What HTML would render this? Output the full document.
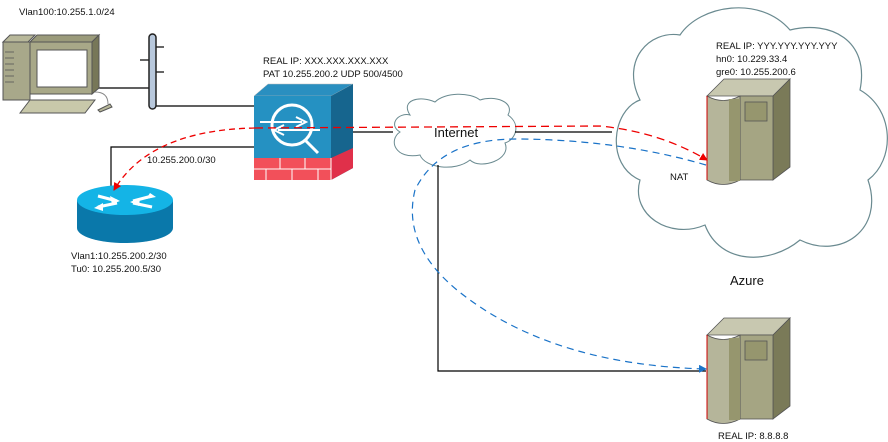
<!DOCTYPE html>
<html><head><meta charset="utf-8"><style>
html,body{margin:0;padding:0;background:#fff}
svg{display:block}
text{font-family:"Liberation Sans",sans-serif;fill:#111}
</style></head><body>
<svg width="888" height="442" viewBox="0 0 888 442" xmlns="http://www.w3.org/2000/svg">
<defs>
<marker id="ar" markerWidth="8" markerHeight="8" refX="7" refY="4" orient="auto" markerUnits="userSpaceOnUse"><path d="M0,0L8,4L0,8z" fill="#e00"/></marker>
<marker id="ab" markerWidth="8" markerHeight="8" refX="7" refY="4" orient="auto" markerUnits="userSpaceOnUse"><path d="M0,0L8,4L0,8z" fill="#1a73c8"/></marker>
<g id="srv">
<path d="M0,17 L17,0 L83,0 L66,17z" fill="#c8c8b0" stroke="#555" stroke-width="0.8"/>
<path d="M66,17 L83,0 L83,88 L66,101z" fill="#7a7a58" stroke="#555" stroke-width="0.8"/>
<rect x="33" y="17" width="33" height="84" fill="#a5a583" stroke="#555" stroke-width="0.8"/>
<rect x="38" y="23" width="22" height="19" fill="#96966e" stroke="#555" stroke-width="0.8"/>
<path d="M0,17 L0,101 Q16,110 33,101 L33,17 Q16,26 0,17z" fill="#b5b59a" stroke="#555" stroke-width="0.8"/>
<rect x="22" y="20" width="11" height="82" fill="#96966e"/>
<line x1="0" y1="17" x2="0" y2="101" stroke="#c00" stroke-width="1"/>
</g>
</defs>

<path d="M640,100 C620,60 650,30 680,35 C700,5 760,-5 790,30 C830,20 870,40 860,90 C895,110 895,160 868,180 C885,230 840,260 800,240 C770,265 720,265 705,225 C670,240 630,215 640,180 C605,165 612,110 640,100z" fill="#fff" stroke="#6a8a90" stroke-width="1.2"/>
<path d="M410,115 C400,100 420,95 435,102 C445,92 470,92 480,100 C495,95 515,102 508,115 C522,125 515,140 505,143 C512,160 480,170 470,160 C455,172 425,168 420,155 C395,160 388,140 400,132 C388,125 398,112 410,115z" fill="#fff" stroke="#6a8a90" stroke-width="1"/>

<g stroke="#000" stroke-width="1.2" fill="none">
<line x1="97" y1="88" x2="150" y2="88"/>
<line x1="156" y1="106" x2="254" y2="106"/>
<polyline points="254,147 111,147 111,190"/>
<line x1="353" y1="132" x2="393" y2="132"/>
<line x1="515" y1="132" x2="612" y2="132"/>
<polyline points="438,165 438,371 706,371"/>
<line x1="140" y1="60" x2="150" y2="60"/>
<line x1="156" y1="47" x2="164" y2="47"/>
<line x1="156" y1="72" x2="164" y2="72"/>
</g>
<rect x="149" y="34" width="7" height="75" rx="3.5" fill="#b8c8dc" stroke="#222" stroke-width="1.5"/>

<g stroke="#555" stroke-width="1">
<path d="M3,42 L10,35 L35,35 L28,42z" fill="#b8b89a"/>
<rect x="3" y="42" width="27" height="58" fill="#a8a88a"/>
<path d="M30,42 L37,35 L99,35 L92,42z" fill="#9a9a7a"/>
<rect x="30" y="42" width="62" height="52" fill="#a8a888"/>
<path d="M92,42 L99,35 L99,88 L92,94z" fill="#777758"/>
<rect x="37" y="50" width="50" height="37" fill="#fff"/>
<path d="M20,113 L30,100 L95,100 L85,113z" fill="#c8c8aa"/>
<path d="M98,110 L110,104 L112,107 L100,112z" fill="#b8b89a"/>
</g>
<g stroke="#555" stroke-width="0.8"><line x1="5" y1="52" x2="14" y2="52"/><line x1="5" y1="58" x2="14" y2="58"/><line x1="5" y1="64" x2="14" y2="64"/><line x1="5" y1="70" x2="14" y2="70"/><line x1="5" y1="76" x2="14" y2="76"/><line x1="5" y1="82" x2="14" y2="82"/></g>
<path d="M95,92 Q108,92 108,104" stroke="#888" fill="none"/>

<path d="M254,96 L268,84 L353,84 L331,96z" fill="#2a8fc0" stroke="#bbb" stroke-width="0.5"/>
<path d="M331,96 L353,84 L353,168 L331,180z" fill="#16658e"/>
<rect x="254" y="96" width="77" height="62" fill="#2591c2"/>
<rect x="254" y="158" width="77" height="22" fill="#f2505a"/>
<path d="M331,158 L353,148 L353,168 L331,180z" fill="#e0304a"/>
<g stroke="#fff" stroke-width="1"><line x1="254" y1="169" x2="331" y2="169"/><line x1="280" y1="158" x2="280" y2="169"/><line x1="305" y1="158" x2="305" y2="169"/><line x1="266" y1="169" x2="266" y2="180"/><line x1="292" y1="169" x2="292" y2="180"/><line x1="318" y1="169" x2="318" y2="180"/><line x1="331" y1="158" x2="331" y2="180"/></g>
<circle cx="292" cy="125" r="20" fill="none" stroke="#fff" stroke-width="3"/>
<line x1="305" y1="140" x2="318" y2="153" stroke="#fff" stroke-width="3"/>
<path d="M260,122 L302,122 M296,117 L306,122 L296,127" stroke="#fff" stroke-width="2" fill="none"/>
<path d="M278,130 L320,130 M284,125 L274,130 L284,135" stroke="#fff" stroke-width="2" fill="none"/>

<path d="M77,200 L77,228 A48,15 0 0 0 173,228 L173,200z" fill="#0a78aa"/>
<ellipse cx="125" cy="200" rx="48" ry="15" fill="#14b4e6"/>
<g stroke="#fff" stroke-width="3" fill="none">
<path d="M98,196 L117,201"/><path d="M152,196 L133,201"/><path d="M98,207 L117,203"/><path d="M152,207 L133,203"/>
</g>
<g fill="#fff"><path d="M120,201 L110,196 L112,204z"/><path d="M150,193 L156,197 L146,199z"/><path d="M94,208 L103,203 L103,211z"/><path d="M130,202 L140,198 L139,206z"/></g>

<use href="#srv" x="707" y="79"/>
<use href="#srv" x="707" y="318"/>

<path d="M255,128 L600,126 Q660,132 707,160" stroke="#e00" stroke-width="1.3" fill="none" stroke-dasharray="8,5" marker-end="url(#ar)"/>
<path d="M255,128 Q150,130 114,190" stroke="#e00" stroke-width="1.3" fill="none" stroke-dasharray="6,4" marker-end="url(#ar)"/>
<path d="M706,165 Q620,140 520,139 Q440,138 415,190 Q400,250 470,300 Q560,365 706,369" stroke="#1a73c8" stroke-width="1.2" fill="none" stroke-dasharray="7,5" marker-end="url(#ab)"/>

<g font-size="9.5">
<text x="19" y="15">Vlan100:10.255.1.0/24</text>
<text x="263" y="64">REAL IP: XXX.XXX.XXX.XXX</text>
<text x="263" y="77">PAT 10.255.200.2 UDP 500/4500</text>
<text x="147" y="163">10.255.200.0/30</text>
<text x="71" y="259">Vlan1:10.255.200.2/30</text>
<text x="71" y="272">Tu0: 10.255.200.5/30</text>
<text x="716" y="49">REAL IP: YYY.YYY.YYY.YYY</text>
<text x="716" y="62">hn0: 10.229.33.4</text>
<text x="716" y="75">gre0: 10.255.200.6</text>
<text x="670" y="180">NAT</text>
<text x="718" y="439">REAL IP: 8.8.8.8</text>
</g>
<text x="434" y="137" font-size="13">Internet</text>
<text x="730" y="285" font-size="13">Azure</text>
</svg>
</body></html>
